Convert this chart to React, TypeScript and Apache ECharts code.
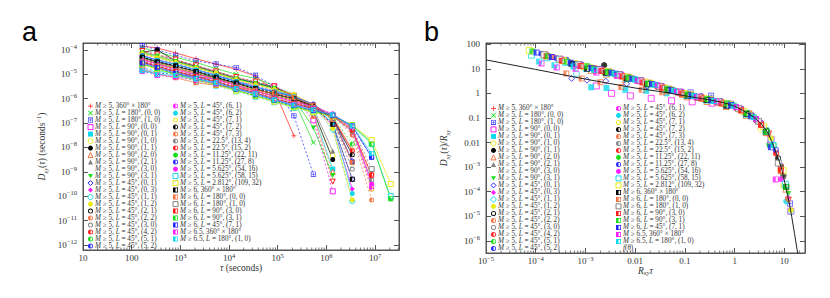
import React, { useEffect, useRef } from 'react';
import * as echarts from 'echarts';

// ---------- data ----------
const TAU = [165, 335, 800, 2100, 5400, 14000, 35000, 85000, 215000, 540000, 1350000, 3400000, 8500000, 21000000];

const NAMES = [
  'M ≥ 5, 360° × 180°',
  'M ≥ 5, L = 180°, (0, 0)',
  'M ≥ 5, L = 180°, (1, 0)',
  'M ≥ 5, L = 90°, (0, 0)',
  'M ≥ 5, L = 90°, (0, 1)',
  'M ≥ 5, L = 90°, (1, 0)',
  'M ≥ 5, L = 90°, (1, 1)',
  'M ≥ 5, L = 90°, (2, 0)',
  'M ≥ 5, L = 90°, (2, 1)',
  'M ≥ 5, L = 90°, (3, 0)',
  'M ≥ 5, L = 90°, (3, 1)',
  'M ≥ 5, L = 45°, (0, 1)',
  'M ≥ 5, L = 45°, (0, 3)',
  'M ≥ 5, L = 45°, (1, 1)',
  'M ≥ 5, L = 45°, (1, 2)',
  'M ≥ 5, L = 45°, (2, 1)',
  'M ≥ 5, L = 45°, (2, 2)',
  'M ≥ 5, L = 45°, (3, 0)',
  'M ≥ 5, L = 45°, (4, 2)',
  'M ≥ 5, L = 45°, (5, 1)',
  'M ≥ 5, L = 45°, (5, 2)',
  'M ≥ 5, L = 45°, (6, 1)',
  'M ≥ 5, L = 45°, (6, 2)',
  'M ≥ 5, L = 45°, (7, 1)',
  'M ≥ 5, L = 45°, (7, 2)',
  'M ≥ 5, L = 45°, (7, 3)',
  'M ≥ 5, L = 22.5°, (13, 4)',
  'M ≥ 5, L = 22.5°, (15, 2)',
  'M ≥ 5, L = 11.25°, (22, 11)',
  'M ≥ 5, L = 11.25°, (27, 8)',
  'M ≥ 5, L = 5.625°, (54, 16)',
  'M ≥ 5, L = 5.625°, (58, 15)',
  'M ≥ 5, L = 2.812°, (109, 32)',
  'M ≥ 6, 360° × 180°',
  'M ≥ 6, L = 180°, (0, 0)',
  'M ≥ 6, L = 180°, (1, 0)',
  'M ≥ 6, L = 90°, (3, 0)',
  'M ≥ 6, L = 90°, (3, 1)',
  'M ≥ 6, L = 45°, (7, 1)',
  'M ≥ 6.5, 360° × 180°',
  'M ≥ 6.5, L = 180°, (1, 0)',
];
const CURVE_NAME = 'f(θ)';

const D01 = [1.4e-4, 1.2e-4, 7.4e-5, 4.3e-5, 2.6e-5, 1.6e-5, 8.3e-6, 2.2e-6, 3.0e-8];
const D02 = [1.2e-4, 8.3e-5, 5.0e-5, 3.0e-5, 1.7e-5, 1.0e-5, 6.6e-6, 3.4e-6, 8.9e-7, 1.6e-8];
const D03 = [1.5e-4, 1.0e-4, 6.0e-5, 3.5e-5, 2.6e-5, 1.9e-5, 9.0e-6, 3.2e-6, 2.0e-7, 8.0e-10];
const D04 = [2.0e-5, 1.0e-5, 7.9e-6, 6.3e-6, 5.0e-6, 4.5e-6, 4.0e-6, 3.2e-6, 1.2e-6, 1.3e-7, 1.6e-10];
const D05 = [1.4e-5, 1.3e-5, 1.1e-5, 1.0e-5, 7.9e-6, 6.3e-6, 4.5e-6, 3.0e-6, 1.3e-6, 2.5e-7, 1.3e-9];
const D06 = [7.4e-5, 5.4e-5, 3.4e-5, 1.9e-5, 1.1e-5, 6.5e-6, 4.2e-6, 2.7e-6, 1.3e-6, 2.2e-7, 4.5e-9];
const D07 = [7.9e-5, 1.0e-4, 3.5e-5, 2.1e-5, 1.2e-5, 6.8e-6, 4.4e-6, 2.8e-6, 1.3e-6, 3.2e-7, 3.2e-9];
const D08 = [6.8e-5, 4.8e-5, 2.9e-5, 1.7e-5, 1.0e-5, 5.7e-6, 3.7e-6, 2.3e-6, 1.0e-6, 2.0e-7, 1.0e-9];
const D09 = [8.3e-5, 6.0e-5, 3.8e-5, 2.2e-5, 1.3e-5, 7.2e-6, 4.7e-6, 3.0e-6, 1.5e-6, 4.0e-7, 7.1e-9];
const D10 = [8.9e-5, 6.5e-5, 4.0e-5, 2.3e-5, 1.3e-5, 7.6e-6, 5.0e-6, 3.2e-6, 1.3e-6, 2.0e-7, 4.0e-10];
const D11 = [7.4e-5, 5.4e-5, 3.3e-5, 1.9e-5, 1.1e-5, 6.3e-6, 4.1e-6, 2.6e-6, 1.0e-6, 6.3e-8, 7.1e-10];
const D12 = [1.3e-5, 1.1e-5, 1.0e-5, 7.9e-6, 6.3e-6, 4.5e-6, 2.9e-6, 1.9e-6, 1.2e-6, 5.1e-7, 1.0e-7, 5.0e-10];
const D13 = [5.8e-5, 3.9e-5, 2.6e-5, 1.5e-5, 9.1e-6, 5.1e-6, 3.1e-6, 2.0e-6, 1.3e-6, 5.0e-7, 7.9e-8, 2.0e-10];
const D14 = [2.5e-5, 4.2e-5, 2.8e-5, 1.6e-5, 9.5e-6, 5.4e-6, 3.3e-6, 2.1e-6, 1.3e-6, 4.9e-7, 5.4e-8, 6.3e-11];
const D15 = [6.9e-5, 4.7e-5, 3.1e-5, 1.8e-5, 1.1e-5, 6.0e-6, 3.7e-6, 2.4e-6, 1.5e-6, 5.5e-7, 6.0e-8, 7.1e-11];
const D16 = [5.1e-5, 3.3e-5, 2.2e-5, 1.3e-5, 7.8e-6, 4.5e-6, 2.6e-6, 1.7e-6, 1.1e-6, 5.4e-7, 1.4e-7, 2.5e-9];
const D17 = [4.7e-5, 3.0e-5, 1.9e-5, 1.2e-5, 7.1e-6, 4.1e-6, 2.4e-6, 1.5e-6, 9.4e-7, 5.6e-7, 1.8e-7, 7.9e-9];
const D18 = [5.4e-5, 3.5e-5, 2.3e-5, 1.4e-5, 8.1e-6, 4.7e-6, 2.7e-6, 1.8e-6, 1.1e-6, 5.2e-7, 1.3e-7, 1.3e-9];
const D19 = [4.2e-5, 2.7e-5, 1.7e-5, 1.1e-5, 6.3e-6, 3.6e-6, 2.1e-6, 1.3e-6, 8.4e-7, 5.0e-7, 1.6e-7, 7.1e-9];
const D20 = [4.5e-5, 2.9e-5, 1.8e-5, 1.1e-5, 6.8e-6, 3.9e-6, 2.3e-6, 1.4e-6, 8.9e-7, 5.6e-7, 1.9e-7, 1.4e-8];
const D21 = [5.8e-5, 3.7e-5, 2.5e-5, 1.5e-5, 8.7e-6, 5.0e-6, 2.9e-6, 1.9e-6, 1.2e-6, 6.0e-7, 1.6e-7, 2.8e-9];
const D22 = [3.8e-5, 2.5e-5, 1.5e-5, 9.8e-6, 5.8e-6, 3.4e-6, 2.0e-6, 1.2e-6, 7.5e-7, 4.7e-7, 2.0e-7, 4.0e-8, 2.0e-10];
const D23 = [5.6e-5, 3.6e-5, 2.5e-5, 1.5e-5, 8.5e-6, 4.9e-6, 2.9e-6, 1.9e-6, 1.2e-6, 5.1e-7, 1.0e-7, 1.3e-10];
const D24 = [3.6e-5, 2.4e-5, 1.4e-5, 9.2e-6, 5.5e-6, 3.2e-6, 1.9e-6, 1.1e-6, 7.1e-7, 4.5e-7, 2.1e-7, 5.0e-8, 2.0e-10];
const D25 = [4.9e-5, 3.2e-5, 2.1e-5, 1.3e-5, 7.2e-6, 4.3e-6, 2.5e-6, 1.5e-6, 1.0e-6, 5.2e-7, 1.6e-7, 5.0e-9];
const D26 = [4.1e-5, 2.6e-5, 1.6e-5, 1.0e-5, 6.1e-6, 3.5e-6, 2.0e-6, 1.2e-6, 7.9e-7, 5.0e-7, 2.0e-7, 3.2e-8, 7.1e-11];
const D27 = [3.2e-5, 2.1e-5, 1.3e-5, 8.2e-6, 4.9e-6, 2.8e-6, 1.7e-6, 9.8e-7, 6.3e-7, 4.0e-7, 1.9e-7, 4.5e-8, 4.5e-10];
const D28 = [3.5e-5, 2.3e-5, 1.3e-5, 8.7e-6, 5.2e-6, 3.0e-6, 1.8e-6, 1.0e-6, 6.6e-7, 4.2e-7, 2.1e-7, 5.6e-8, 8.0e-10];
const D29 = [2.6e-5, 1.7e-5, 1.0e-5, 5.9e-6, 3.8e-6, 2.2e-6, 1.3e-6, 7.9e-7, 4.6e-7, 3.0e-7, 1.9e-7, 8.1e-8, 1.6e-8, 7.9e-11];
const D30 = [3.2e-5, 2.1e-5, 1.2e-5, 7.6e-6, 4.8e-6, 2.8e-6, 1.7e-6, 9.5e-7, 5.8e-7, 3.8e-7, 2.2e-7, 7.1e-8, 4.0e-9];
const D31 = [3.9e-5, 2.6e-5, 1.5e-5, 9.8e-6, 5.9e-6, 3.4e-6, 2.0e-6, 1.2e-6, 7.4e-7, 4.7e-7, 2.4e-7, 6.3e-8, 3.2e-10];
const D32 = [1.8e-5, 1.4e-5, 9.1e-6, 5.2e-6, 3.4e-6, 2.0e-6, 1.2e-6, 7.1e-7, 4.1e-7, 2.7e-7, 1.7e-7, 7.2e-8, 1.4e-8, 1.0e-10];
const D33 = [2.5e-5, 1.6e-5, 9.8e-6, 5.6e-6, 3.6e-6, 2.1e-6, 1.3e-6, 7.5e-7, 4.4e-7, 2.8e-7, 1.8e-7, 8.3e-8, 2.0e-8, 3.2e-10];
const D34 = [5.0e-5, 3.2e-5, 2.2e-5, 1.3e-5, 7.6e-6, 4.4e-6, 2.6e-6, 1.7e-6, 1.0e-6, 4.6e-7, 8.9e-8, 5.0e-10];
const D35 = [1.6e-5, 1.0e-5, 7.1e-6, 4.5e-6, 3.5e-6, 2.8e-6, 2.2e-6, 1.7e-6, 1.1e-6, 5.4e-7, 1.4e-7, 2.5e-9];
const D36 = [3.3e-5, 2.2e-5, 1.3e-5, 8.1e-6, 5.0e-6, 2.9e-6, 1.7e-6, 1.0e-6, 6.2e-7, 4.0e-7, 2.1e-7, 6.5e-8, 1.3e-9];
const D37 = [3.2e-5, 2.1e-5, 1.3e-5, 8.1e-6, 4.9e-6, 2.8e-6, 1.7e-6, 9.8e-7, 6.2e-7, 3.9e-7, 2.0e-7, 5.2e-8, 7.1e-10];
const D38 = [2.6e-5, 1.7e-5, 1.0e-5, 6.6e-6, 3.9e-6, 2.3e-6, 1.3e-6, 8.1e-7, 4.7e-7, 3.1e-7, 2.0e-7, 8.1e-8, 1.4e-8, 8.0e-11];
const D39 = [2.9e-5, 1.9e-5, 1.1e-5, 6.8e-6, 4.3e-6, 2.5e-6, 1.5e-6, 8.7e-7, 5.2e-7, 3.3e-7, 2.1e-7, 7.8e-8, 4.0e-9];
const D40 = [1.3e-5, 8.9e-6, 7.9e-6, 5.6e-6, 4.0e-6, 2.6e-6, 1.7e-6, 9.5e-7, 5.8e-7, 3.8e-7, 2.2e-7, 7.1e-8, 2.5e-10];
const D41 = [1.4e-5, 1.0e-5, 8.9e-6, 6.3e-6, 4.5e-6, 2.6e-6, 1.6e-6, 9.0e-7, 5.5e-7, 3.5e-7, 2.2e-7, 7.6e-8, 5.6e-9];

// scaling rate R_xy of each region (panel b: x = R·τ, y = D/R)
const R_XY = [4.0e-5, 1.6e-5, 2.4e-5, 1.0e-5, 7.9e-6, 6.3e-6, 7.1e-6, 7.9e-6, 6.3e-6, 8.9e-6, 8.9e-6,
  3.2e-6, 3.5e-6, 4.0e-6, 4.0e-6, 2.5e-6, 2.0e-6, 2.8e-6, 2.0e-6, 1.8e-6, 2.5e-6,
  1.26e-6, 3.2e-6, 1.12e-6, 2.2e-6, 1.4e-6, 1.12e-6, 1.0e-6, 5.0e-7, 7.9e-7, 1.0e-6, 5.0e-7, 4.5e-7,
  3.2e-6, 2.5e-6, 8.9e-7, 1.0e-6, 5.2e-7, 6.3e-7, 7.9e-7, 7.1e-7];

// scaling function f(θ)
const F_X = [1e-5, 1e-4, 1e-3, 0.01, 0.03, 0.1, 0.3, 0.6, 1, 1.5, 2.4, 3.5, 4.5, 5.5, 6.5, 7.7, 8.9, 11, 12.5, 14, 16, 18, 20];
const F_Y = [23, 9.4, 3.8, 1.65, 1.2, 0.8, 0.55, 0.42, 0.3, 0.2, 0.11, 0.055, 0.028, 0.012, 5e-3, 2e-3, 8e-4, 1.2e-4, 3.5e-5, 1e-5, 2e-6, 4.5e-7, 1.2e-7];

// tick labels
const A_X_TICKS = ['10', '100', '10^3', '10^4', '10^5', '10^6', '10^7']; // 10^1..10^7
const A_Y_TICKS = ['10^-12', '10^-11', '10^-10', '10^-9', '10^-8', '10^-7', '10^-6', '10^-5', '10^-4']; // -12..-4
const B_X_TICKS = ['10^-5', '10^-4', '10^-3', '0.01', '0.1', '1', '10']; // -5..1
const B_Y_TICKS = ['10^-6', '10^-5', '10^-4', '10^-3', '0.01', '0.1', '1', '10', '100']; // -6..2

const DATA_A = [D01, D02, D03, D04, D05, D06, D07, D08, D09, D10, D11, D12, D13, D14, D15, D16, D17, D18, D19, D20, D21,
  D22, D23, D24, D25, D26, D27, D28, D29, D30, D31, D32, D33, D34, D35, D36, D37, D38, D39, D40, D41];

// axis ranges
const A_X_RANGE = [10, 3.1e7];
const A_Y_RANGE = [6.3e-13, 1.9e-4];
const B_X_RANGE = [1e-5, 26];
const B_Y_RANGE = [3.2e-7, 112];

// ---------- styles ----------
const P_PLUS = 'path://M-1.3,-10L1.3,-10L1.3,-1.3L10,-1.3L10,1.3L1.3,1.3L1.3,10L-1.3,10L-1.3,1.3L-10,1.3L-10,-1.3L-1.3,-1.3Z';
const P_CROSS = 'path://M-8,-6.2L-6.2,-8L0,-1.8L6.2,-8L8,-6.2L1.8,0L8,6.2L6.2,8L0,1.8L-6.2,8L-8,6.2L-1.8,0Z';
const P_STAR = 'path://M-10,-10L10,-10L10,10L-10,10Z M-7.5,-7.5L-7.5,7.5L7.5,7.5L7.5,-7.5Z M-1,-6L1,-6L1,-1L6,-1L6,1L1,1L1,6L-1,6L-1,1L-6,1L-6,-1L-1,-1Z';
const P_HALF = 'path://M0,-10A10,10 0 1,1 0,10A10,10 0 1,1 0,-10Z M0,-7A7,7 0 1,0 0,7A7,7 0 1,0 0,-7Z M0,7A7,7 0 0,1 0,-7Z';
const P_RING = 'path://M0,-10A10,10 0 1,1 0,10A10,10 0 1,1 0,-10Z M0,-6.5A6.5,6.5 0 1,0 0,6.5A6.5,6.5 0 1,0 0,-6.5Z';
const P_HALFSQ = 'path://M-10,-10L10,-10L10,10L-10,10Z M-7,-7L-7,7L7,7L7,-7Z M-7,-7L0,-7L0,7L-7,7Z';
const P_ITRI = 'path://M-10,-8L10,-8L0,9Z';

const SYMS: Record<string, string> = {
  plus: P_PLUS, cross: P_CROSS, star: P_STAR, half: P_HALF, ring: P_RING, halfSq: P_HALFSQ, itri: P_ITRI,
  tri: 'triangle', dia: 'diamond', circle: 'circle', rect: 'rect',
};

const RED = '#ff1a1a', GRN = '#1adf1a', BLU = '#2323ff', MAG = '#ff1aff', CYN = '#12d8ec', YEL = '#eaea10', BLK = '#000000', ORG = '#f5703c', GRY = '#808080';

// [color, symbol, hollow, dashed]
const STY: [string, string, number, number][] = [
  [RED, 'plus', 0, 0], [GRN, 'cross', 0, 0], [BLU, 'star', 0, 1], [MAG, 'rect', 1, 1], [CYN, 'rect', 0, 0],
  [YEL, 'circle', 1, 1], [BLK, 'circle', 0, 0], [ORG, 'tri', 1, 1], [GRY, 'tri', 0, 0], [RED, 'itri', 1, 1],
  [GRN, 'itri', 0, 0], [BLU, 'dia', 1, 1], [MAG, 'dia', 0, 0], [CYN, 'circle', 1, 1], [YEL, 'circle', 0, 0],
  [BLK, 'ring', 0, 1], [ORG, 'half', 0, 0], [GRY, 'ring', 0, 1], [RED, 'half', 0, 0], [GRN, 'half', 0, 1],
  [BLU, 'half', 0, 0], [MAG, 'half', 0, 1], [CYN, 'circle', 0, 0], [YEL, 'ring', 0, 1], [BLK, 'half', 0, 0],
  [ORG, 'half', 0, 1], [GRY, 'half', 0, 0], [RED, 'half', 0, 1], [GRN, 'circle', 0, 0], [BLU, 'half', 0, 1],
  [MAG, 'circle', 0, 0], [CYN, 'rect', 1, 1], [YEL, 'rect', 1, 0], [BLK, 'halfSq', 0, 1], [ORG, 'halfSq', 0, 0],
  [GRY, 'rect', 1, 1], [RED, 'halfSq', 0, 0], [GRN, 'halfSq', 0, 1], [BLU, 'halfSq', 0, 0], [MAG, 'halfSq', 0, 1],
  [CYN, 'halfSq', 0, 0],
];

const SERIF = '"Liberation Serif", "DejaVu Serif", serif';
const AXIS_COLOR = '#555';
const TEXT_COLOR = '#333';
const LEG_FS = 7.2;
const LEG_LH = 6.85;

const toRich = (s: string) => s.replace(/^(.*)\^(.*)$/, (_m, b, e) => `${b}{sup|${e.replace('-', '−')}}`);
const tickFormatter = (labels: string[], firstExp: number) => (v: number) => {
  const l = Math.log10(v);
  const e = Math.round(l);
  if (Math.abs(l - e) > 1e-6) return '';
  const lab = labels[e - firstExp];
  return lab === undefined ? '' : toRich(lab);
};

// minor tick positions (2..9 × 10^k) inside an axis range
const minorTicks = (range: number[]) => {
  const out: number[][] = [];
  for (let e = Math.floor(Math.log10(range[0])); e <= Math.ceil(Math.log10(range[1])); e++) {
    for (let m = 2; m <= 9; m++) {
      const v = m * Math.pow(10, e);
      if (v > range[0] && v < range[1]) out.push([v]);
    }
  }
  return out;
};

// every part of a legend label is a rich token with the same line height
const legendFmt = (name: string) => {
  if (name === CURVE_NAME) return '{i|f}{r|(θ)}';
  const m = name.match(/^M(.*?)(L)?( =.*)?$/);
  if (!m) return `{r|${name}}`;
  if (m[2]) return `{i|M}{r|${m[1]}}{i|L}{r|${m[3]}}`;
  return `{i|M}{r|${m[1]}}`;
};

const itemStyleFor = (i: number) => {
  const [c, , hollow] = STY[i];
  return hollow ? { color: '#ffffff', borderColor: c, borderWidth: 1 } : { color: c, borderColor: c, borderWidth: 0 };
};

const minorTickSeries = (xAxisIndex: number, yAxisIndex: number, range: number[], yRef: number) => ({
  type: 'custom', name: 'minor-ticks', xAxisIndex, yAxisIndex, silent: true, z: 6, clip: false,
  data: minorTicks(range).map((v) => [v[0], yRef]),
  renderItem: (params: any, api: any) => {
    const x = api.coord([api.value(0), yRef])[0];
    const cs = params.coordSys;
    const top = cs.y, bottom = cs.y + cs.height;
    const st = { stroke: AXIS_COLOR, lineWidth: 0.8 };
    return {
      type: 'group',
      children: [
        { type: 'line', shape: { x1: x, y1: bottom, x2: x, y2: bottom - 2.5 }, style: st },
        { type: 'line', shape: { x1: x, y1: top, x2: x, y2: top + 2.5 }, style: st },
      ],
    };
  },
});

const buildOption = () => {
  const seriesA: any[] = NAMES.map((name, i) => {
    const [c, sym, , dashed] = STY[i];
    return {
      type: 'line', name, xAxisIndex: 0, yAxisIndex: 0,
      data: DATA_A[i].map((d, k) => [TAU[k], d]),
      symbol: SYMS[sym], symbolSize: 5, showSymbol: true,
      lineStyle: { color: c, width: 0.7, type: dashed ? [2, 2] : 'solid' },
      itemStyle: itemStyleFor(i), silent: true, emphasis: { disabled: true }, z: 2,
    };
  });
  const seriesB: any[] = NAMES.map((name, i) => {
    const [, sym] = STY[i];
    return {
      type: 'scatter', name, xAxisIndex: 2, yAxisIndex: 2,
      data: DATA_A[i].map((d, k) => [TAU[k] * R_XY[i], d / R_XY[i]]),
      symbol: SYMS[sym], symbolSize: 6,
      itemStyle: itemStyleFor(i), silent: true, emphasis: { disabled: true }, z: 2,
    };
  });
  const curve = {
    type: 'line', name: CURVE_NAME, xAxisIndex: 2, yAxisIndex: 2,
    data: F_X.map((x, k) => [x, F_Y[k]]), showSymbol: false, symbol: 'none',
    lineStyle: { color: '#222', width: 1 }, itemStyle: { color: '#222' }, silent: true, z: 5,
  };

  const legendItem = (i: number) => {
    const [, sym, hollow] = STY[i];
    const isPath = SYMS[sym].startsWith('path://');
    return { name: NAMES[i], icon: SYMS[sym], itemStyle: { borderWidth: isPath ? 0 : (hollow ? 1 : 0) } };
  };
  const legendBase = {
    orient: 'vertical', itemGap: 0, padding: 0, itemWidth: 5, itemHeight: 5, selectedMode: false,
    formatter: legendFmt,
    textStyle: {
      fontFamily: SERIF, fontSize: LEG_FS, color: TEXT_COLOR, lineHeight: LEG_LH, padding: [0, 0, 0, -3],
      rich: {
        i: { fontFamily: SERIF, fontSize: LEG_FS, fontStyle: 'italic', lineHeight: LEG_LH, verticalAlign: 'middle', color: TEXT_COLOR },
        r: { fontFamily: SERIF, fontSize: LEG_FS, lineHeight: LEG_LH, verticalAlign: 'middle', color: TEXT_COLOR },
      },
    },
  };
  const col1 = NAMES.slice(0, 21).map((_, i) => legendItem(i));
  const col2 = NAMES.slice(21).map((_, i) => legendItem(i + 21));

  const labelStyle = (fmt: any, lh: number) => ({
    formatter: fmt, fontFamily: SERIF, fontSize: 9, color: TEXT_COLOR, lineHeight: lh,
    rich: { sup: { fontFamily: SERIF, fontSize: 6.5, verticalAlign: 'top', color: TEXT_COLOR } },
  });
  const nameStyle = (lh: number) => ({
    fontFamily: SERIF, fontSize: 9.5, color: TEXT_COLOR, lineHeight: lh,
    rich: {
      i: { fontFamily: SERIF, fontSize: 9.5, fontStyle: 'italic', color: TEXT_COLOR },
      sub: { fontFamily: SERIF, fontSize: 6.5, fontStyle: 'italic', verticalAlign: 'bottom', color: TEXT_COLOR },
      sup: { fontFamily: SERIF, fontSize: 6.5, verticalAlign: 'top', color: TEXT_COLOR },
    },
  });
  const axLine = { show: true, lineStyle: { color: AXIS_COLOR, width: 1 } };
  const tick = { show: true, inside: true, length: 5, lineStyle: { color: AXIS_COLOR, width: 1 } };
  const mirror = (extra: any) => ({
    type: 'log', logBase: 10, axisLine: axLine, axisTick: tick, axisLabel: { show: false }, splitLine: { show: false }, ...extra,
  });

  return {
    animation: false,
    backgroundColor: '#ffffff',
    grid: [
      { left: 83, top: 43, width: 316, height: 207, show: true, borderColor: AXIS_COLOR, borderWidth: 1, containLabel: false },
      { left: 486, top: 43, width: 319, height: 210, show: true, borderColor: AXIS_COLOR, borderWidth: 1, containLabel: false },
    ],
    xAxis: [
      {
        gridIndex: 0, type: 'log', logBase: 10, min: A_X_RANGE[0], max: A_X_RANGE[1], position: 'bottom',
        axisLine: axLine, axisTick: tick, splitLine: { show: false },
        axisLabel: { ...labelStyle(tickFormatter(A_X_TICKS, 1), 12), margin: 2 },
        name: '{i|τ} (seconds)', nameLocation: 'middle', nameGap: 13, nameMoveOverlap: false, nameTextStyle: nameStyle(10),
      },
      mirror({ gridIndex: 0, min: A_X_RANGE[0], max: A_X_RANGE[1], position: 'top' }),
      {
        gridIndex: 1, type: 'log', logBase: 10, min: B_X_RANGE[0], max: B_X_RANGE[1], position: 'bottom',
        axisLine: axLine, axisTick: tick, splitLine: { show: false },
        axisLabel: { ...labelStyle(tickFormatter(B_X_TICKS, -5), 12), margin: 2 },
        name: '{i|R}{sub|xy}{i|τ}', nameLocation: 'middle', nameGap: 13, nameMoveOverlap: false, nameTextStyle: nameStyle(10),
      },
      mirror({ gridIndex: 1, min: B_X_RANGE[0], max: B_X_RANGE[1], position: 'top' }),
    ],
    yAxis: [
      {
        gridIndex: 0, type: 'log', logBase: 10, min: A_Y_RANGE[0], max: A_Y_RANGE[1], position: 'left',
        axisLine: axLine, axisTick: tick, splitLine: { show: false },
        axisLabel: { ...labelStyle(tickFormatter(A_Y_TICKS, -12), 14), margin: 6 },
        name: '{i|D}{sub|xy}({i|τ}) (seconds{sup|−1})', nameLocation: 'middle', nameGap: 34, nameTextStyle: nameStyle(14),
      },
      mirror({ gridIndex: 0, min: A_Y_RANGE[0], max: A_Y_RANGE[1], position: 'right' }),
      {
        gridIndex: 1, type: 'log', logBase: 10, min: B_Y_RANGE[0], max: B_Y_RANGE[1], position: 'left',
        axisLine: axLine, axisTick: tick, splitLine: { show: false },
        axisLabel: { ...labelStyle(tickFormatter(B_Y_TICKS, -6), 14), margin: 6 },
        name: '{i|D}{sub|xy}({i|τ})/{i|R}{sub|xy}', nameLocation: 'middle', nameGap: 35, nameTextStyle: nameStyle(14),
      },
      mirror({ gridIndex: 1, min: B_Y_RANGE[0], max: B_Y_RANGE[1], position: 'right' }),
    ],
    legend: [
      { ...legendBase, left: 87.5, top: 102.6, data: col1 },
      { ...legendBase, left: 172.5, top: 102.6, data: col2 },
      { ...legendBase, left: 490.5, top: 104.9, data: col1 },
      { ...legendBase, left: 615.5, top: 104.9, data: [...col2, { name: CURVE_NAME, icon: 'rect', itemStyle: { opacity: 0 } }] },
    ],
    graphic: [
      { type: 'text', left: 22, top: 18, style: { text: 'a', fontSize: 27, fontFamily: '"Liberation Sans", Arial, sans-serif', fill: '#000' } },
      { type: 'text', left: 424, top: 18, style: { text: 'b', fontSize: 27, fontFamily: '"Liberation Sans", Arial, sans-serif', fill: '#000' } },
    ],
    series: [
      ...seriesA, ...seriesB, curve,
      minorTickSeries(0, 0, A_X_RANGE, 1e-8),
      minorTickSeries(2, 2, B_X_RANGE, 1),
    ],
  };
};

export default function App() {
  const ref = useRef<HTMLDivElement>(null);
  useEffect(() => {
    if (!ref.current) return;
    const chart = echarts.init(ref.current, undefined, { renderer: 'svg' });
    chart.setOption(buildOption() as any);
    return () => chart.dispose();
  }, []);
  return <div ref={ref} style={{ position: 'absolute', left: 0, top: 0, width: 830, height: 298, background: '#fff' }} />;
}
